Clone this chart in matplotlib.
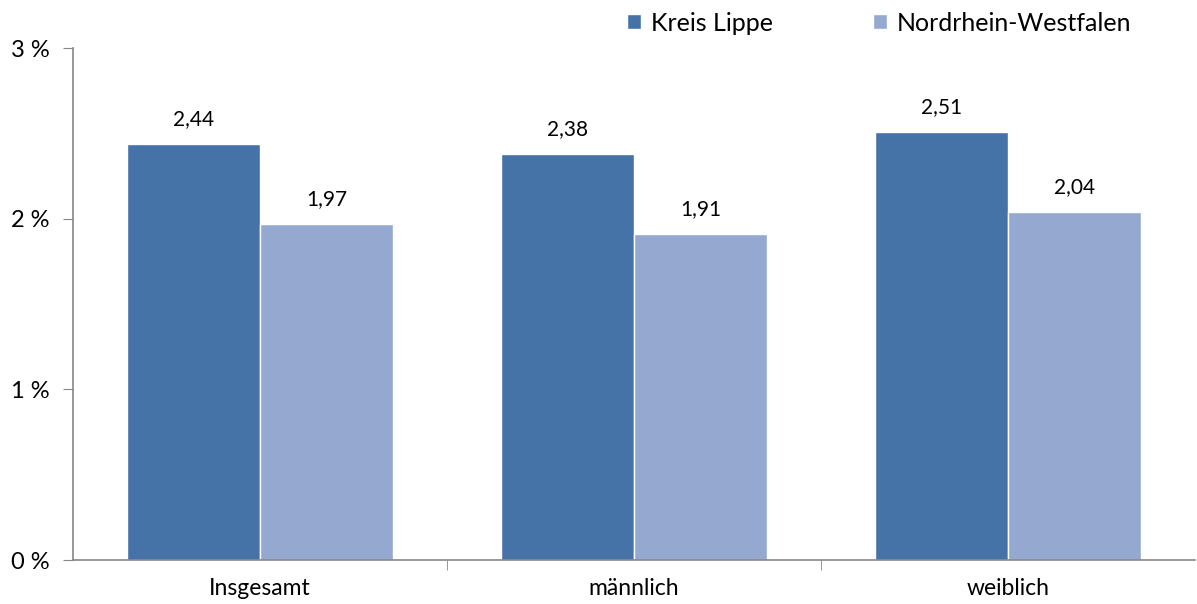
import numpy as np
import matplotlib.pyplot as plt

plt.rcParams['font.family'] = ['Lato', 'DejaVu Sans']

categories = ['Insgesamt', 'männlich', 'weiblich']
lippe = [2.44, 2.38, 2.51]
nrw = [1.97, 1.91, 2.04]
series_names = ['Kreis Lippe', 'Nordrhein-Westfalen']

fig = plt.figure(figsize=(11.97, 6.04), dpi=100)
ax = fig.add_axes([0.061, 0.0728, 0.937, 0.8477])

x = np.arange(len(categories))
w = 0.356
b1 = ax.bar(x - w / 2, lippe, w, color='#4572A7', edgecolor='white', linewidth=1, label=series_names[0])
b2 = ax.bar(x + w / 2, nrw, w, color='#95A9D0', edgecolor='white', linewidth=1, label=series_names[1])

for bars, vals in [(b1, lippe), (b2, nrw)]:
    for r, v in zip(bars, vals):
        ax.text(r.get_x() + r.get_width() / 2, v + 0.085, f'{v:.2f}'.replace('.', ','),
                ha='center', va='bottom', fontsize=15)

ax.set_xlim(-0.5, 2.5)
ax.set_ylim(0, 3)
ax.set_yticks([0, 1, 2, 3])
ax.set_yticklabels(['0 %', '1 %', '2 %', '3 %'], fontsize=17)
ax.set_xticks(x)
ax.set_xticklabels(categories, fontsize=16.5)
ax.tick_params(axis='x', length=0, pad=13)
ax.set_xticks([0.5, 1.5], minor=True)
ax.tick_params(axis='x', which='minor', length=7, color='#868686')
ax.tick_params(axis='y', length=7, color='#868686', pad=10)

for s in ['top', 'right']:
    ax.spines[s].set_visible(False)
for s in ['left', 'bottom']:
    ax.spines[s].set_color('#868686')
    ax.spines[s].set_linewidth(1.2)

fig.legend(loc='upper right', bbox_to_anchor=(0.964, 1.018), ncol=2, frameon=False,
           fontsize=18, handlelength=0.55, handleheight=0.55, handletextpad=0.4,
           columnspacing=4.0)

fig.savefig('out.png', dpi=100)
